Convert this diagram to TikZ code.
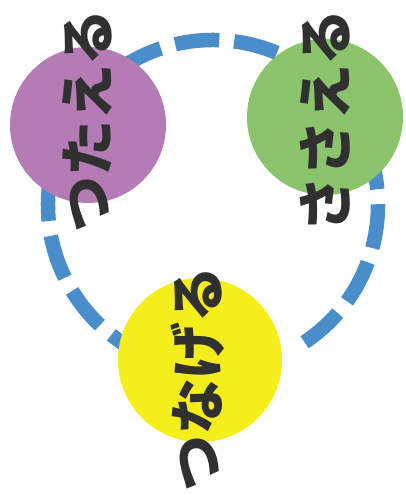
\documentclass[tikz,border=0pt]{standalone}
\usepackage{fontspec}
\newfontfamily\cjk{Noto Sans CJK JP}
\definecolor{ringblue}{HTML}{4A8DCB}
\definecolor{mauve}{HTML}{B57BB4}
\definecolor{leaf}{HTML}{8CC46E}
\definecolor{lemon}{HTML}{F6EE1B}
\definecolor{ink}{HTML}{303030}
\tikzset{
  ringline/.style={draw=ringblue, line width=14.5pt, dash pattern=on 44.3pt off 15pt},
  blob/.style={circle, minimum size=#1, inner sep=0pt},
  word/.style={rotate=90, text=ink, font=\cjk\bfseries\fontsize{56}{56}\selectfont, inner sep=0pt}
}
\begin{document}
\begin{tikzpicture}[x=1pt,y=1pt]
\useasboundingbox (0,0) rectangle (405,495);
\fill[white] (0,0) rectangle (405,495);
\coordinate (c) at (213,290);
\draw[ringline] ([shift={(-56.3:165pt)}]c) arc[start angle=-56.3, end angle=250, radius=165pt];
\node[blob=156pt, fill=mauve] (p) at (88,370) {};
\node[blob=156pt, fill=leaf] (g) at (325,378) {};
\node[blob=164pt, fill=lemon] (y) at (200,135) {};
\node[word] (tp) at (87,374) {つたえる};
\node[word] (tg) at (325,374) {ささえる};
\node[word] (ty) at (198,116) {つなげる};
\end{tikzpicture}
\end{document}
